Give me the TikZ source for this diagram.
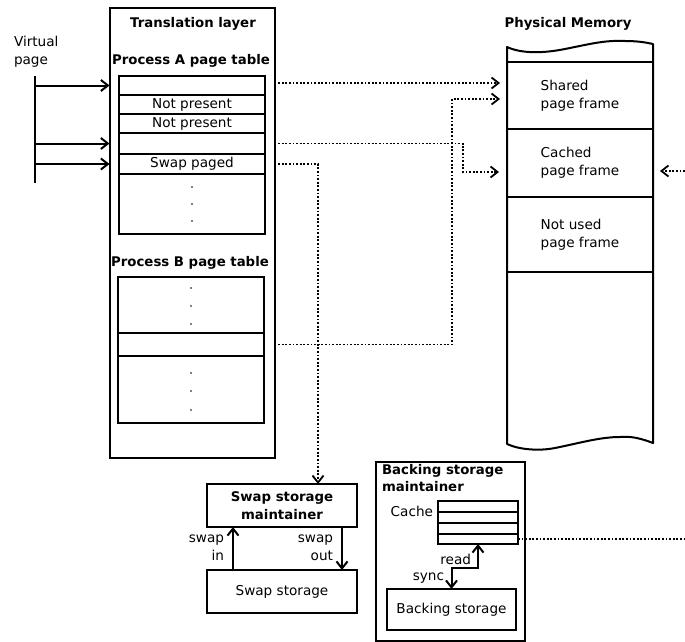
\documentclass[tikz,border=0pt]{standalone}
\usepackage{fontspec}
\setmainfont{DejaVu Sans}
\usetikzlibrary{arrows.meta}

\begin{document}
\begin{tikzpicture}[x=1pt,y=-1pt,
  every node/.style={inner sep=0pt, outer sep=0pt},
  txt/.style={font=\fontsize{13.6}{18}\selectfont},
  ttl/.style={font=\fontsize{13.3}{17.5}\selectfont\bfseries},
  box/.style={draw, line width=2pt, anchor=north west},
  row/.style={box, txt, minimum width=146pt},
  frm/.style={box, txt, align=left, minimum width=146pt},
  crow/.style={box, minimum width=80pt},
  barb/.tip={Straight Barb[length=7pt,width=11pt]},
  arr/.style={line width=2pt, -barb},
  darr/.style={line width=1.8pt, dash pattern=on 1.8pt off 1.8pt, -barb},
  dline/.style={line width=1.8pt, dash pattern=on 1.8pt off 1.8pt},
  dot/.style={fill=black},
]
\useasboundingbox (0,0) rectangle (685,642);

% ---------- translation layer ----------
\node[box, minimum width=165pt, minimum height=450pt] (tl) at (109.5,8) {};
\node[ttl] (tltitle) at (193,24) {Translation layer};

% process A page table
\node[ttl] (pa) at (191,61) {Process A page table};
\node[row, minimum height=19pt] (a1) at (119,76) {};
\node[row, minimum height=19pt] (a2) at (119,95) {Not present};
\node[row, minimum height=19pt] (a3) at (119,114) {\raisebox{-2pt}{Not present}};
\node[row, minimum height=21pt] (a4) at (119,133) {};
\node[row, minimum height=20pt] (a5) at (119,154) {Swap paged};
\node[row, minimum height=60pt] (a6) at (119,174) {};
\foreach \y in {187,204,221} \fill[dot] (192,\y) circle (0.9pt);

% process B page table
\node[ttl] (pb) at (190,263) {Process B page table};
\node[row, minimum height=56pt] (b1) at (118,277) {};
\node[row, minimum height=23pt] (b2) at (118,333) {};
\node[row, minimum height=67pt] (b3) at (118,356) {};
\foreach \y in {288,306,324,373,391,410} \fill[dot] (191,\y) circle (0.9pt);

% ---------- virtual pages ----------
\node[txt, align=left, anchor=west] (vp) at (14,52) {Virtual\\page};
\coordinate (vt) at (35,76);
\coordinate (vb) at (35,183);
\draw[line width=2pt] (vt) -- (vb);
\draw[arr] (vt |- a1) -- (a1 -| tl.west);
\draw[arr] (vt |- a4) -- (a4 -| tl.west);
\draw[arr] (vt |- a5) -- (a5 -| tl.west);

% ---------- physical memory ----------
\node[ttl] (pmt) at (568,24) {Physical Memory};
\draw[line width=2pt, line join=round]
  (507,47) .. controls (520,53) and (540,54) .. (565,49)
  .. controls (590,44) and (605,40) .. (625,41)
  .. controls (640,41) and (648,43) .. (653,44)
  -- (653,443)
  .. controls (640,438) and (630,436) .. (620,437)
  .. controls (600,437) and (580,443) .. (555,448)
  .. controls (540,451) and (520,450) .. (507,444)
  -- cycle;
\node[frm, minimum height=67pt] (shared) at (507,62) {Shared\\page frame};
\node[frm, minimum height=68pt] (cached) at (507,129) {Cached\\page frame};
\node[frm, minimum height=75pt] (unused) at (507,197) {Not used\\page frame};

% ---------- swap storage ----------
\node[box, ttl, align=center, minimum width=150pt, minimum height=43pt] (swm) at (207,484) {Swap storage\\maintainer};
\node[box, txt, minimum width=150pt, minimum height=43pt] (ss) at (207,570) {Swap storage};
\draw[arr] ([xshift=-49pt]ss.north) -- ([xshift=-49pt]swm.south);
\draw[arr] ([xshift=60pt]swm.south) -- ([xshift=60pt]ss.north);
\node[txt, align=right, anchor=east] (swin) at (224,548) {swap\\in};
\node[txt, align=right, anchor=east] (swout) at (333,548) {swap\\out};

% ---------- backing storage ----------
\node[box, minimum width=149pt, minimum height=179pt] (bsm) at (376,462) {};
\node[ttl, align=left, anchor=north west] (bsmt) at (382,464) {Backing storage\\maintainer};
\node[crow, minimum height=11pt] (c1) at (438,501) {};
\node[crow, minimum height=11pt] (c2) at (438,512) {};
\node[crow, minimum height=11pt] (c3) at (438,523) {};
\node[crow, minimum height=10pt] (c4) at (438,534) {};
\node[txt, anchor=east] (cachelbl) at (433,511) {Cache};
\node[box, txt, minimum width=129pt, minimum height=41pt] (bs) at (387,589) {Backing storage};
\draw[line width=2pt, barb-barb] (c4.south) -- ++(0,24) -| (bs.north);
\node[txt, anchor=east] (rd) at (471,559) {read};
\node[txt, anchor=east] (sy) at (444,578) {sync};

% ---------- page mappings ----------
\coordinate (inA) at (500,83);
\coordinate (inB) at (500,99);
\coordinate (inC) at (499,172);
\coordinate (inD) at (660,171);
\coordinate (extD) at (685,171);
\coordinate (extC) at (685,539);
\draw[darr] (inA -| tl.east) -- (inA);
\draw[darr] (b2 -| tl.east) -| ([xshift=-48pt]inB) -- (inB);
\draw[darr] (a4 -| tl.east) -| ([xshift=-36pt]inC) -- (inC);
\draw[darr] (a5 -| tl.east) -| ([xshift=36pt]swm.north);
\draw[darr] (extD) -- (inD);
\draw[dline] (c4.east) -- (extC);
\end{tikzpicture}
\end{document}
